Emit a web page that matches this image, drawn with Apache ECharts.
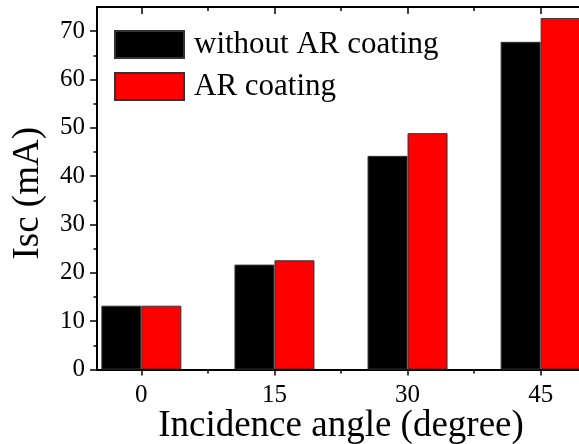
<!DOCTYPE html>
<html>
<head>
<meta charset="utf-8">
<script src="https://cdn.jsdelivr.net/npm/echarts@6/dist/echarts.min.js"></script>
<style>
html,body{margin:0;padding:0;background:#fff;}
#c{width:579px;height:444px;}
</style>
</head>
<body>
<div id="c"></div>
<script>
var angles = [0, 15, 30, 45];
var withoutAR = [13.2, 21.7, 44.2, 67.8];
var withAR = [13.2, 22.6, 48.9, 72.7];
var xMajorTicks = [0, 15, 30, 45];
var xMinorTicks = [7.5, 22.5, 37.5];
var yMajorTicks = [0, 10, 20, 30, 40, 50, 60, 70];
var yMinorTicks = [5, 15, 25, 35, 45, 55, 65];

var FONT = 'Liberation Serif';
var chart = echarts.init(document.getElementById('c'));

function pairs(vals) {
  return angles.map(function (a, i) { return [a, vals[i]]; });
}

function xAx(pos, ticks, len, inside, extra) {
  var o = {
    type: 'value', position: pos, min: -5, max: 50,
    axisLine: { show: false, onZero: false },
    splitLine: { show: false },
    axisTick: { show: true, inside: inside, length: len, customValues: ticks,
      lineStyle: { color: '#000', width: 1.5 } },
    axisLabel: { show: false }
  };
  for (var k in extra) o[k] = extra[k];
  return o;
}

chart.setOption({
  animation: false,
  backgroundColor: '#fff',
  grid: { left: 97, right: -6, top: 7, bottom: 74.5, containLabel: false, outerBoundsMode: 'none' },
  legend: {
    orient: 'vertical', left: 114, top: 29, padding: 0,
    itemWidth: 69, itemHeight: 27, itemGap: 11,
    icon: 'rect',
    textStyle: { fontFamily: FONT, fontSize: 31, color: '#000', padding: [0, 0, 0, 5] },
    data: ['without AR coating', 'AR coating']
  },
  xAxis: [
    xAx('bottom', xMajorTicks, 6, false, {
      axisLine: { show: true, onZero: false, lineStyle: { color: '#000', width: 2 } },
      axisLabel: { show: true, customValues: xMajorTicks, fontFamily: FONT, fontSize: 25, color: '#000', margin: 13 },
      name: 'Incidence angle (degree)', nameLocation: 'middle', nameGap: 38, nameMoveOverlap: false,
      nameTextStyle: { fontFamily: FONT, fontSize: 37, color: '#000' }
    }),
    xAx('bottom', xMinorTicks, 4, false, {}),
    xAx('top', xMajorTicks, 7, true, {
      axisLine: { show: true, onZero: false, lineStyle: { color: '#000', width: 2 } }
    }),
    xAx('top', xMinorTicks, 4, true, {})
  ],
  yAxis: [
    {
      type: 'value', position: 'left', min: 0, max: 75,
      axisLine: { show: true, onZero: false, lineStyle: { color: '#000', width: 2 } },
      splitLine: { show: false },
      axisTick: { show: true, inside: false, length: 7, customValues: yMajorTicks,
        lineStyle: { color: '#000', width: 1.5 } },
      axisLabel: { customValues: yMajorTicks, fontFamily: FONT, fontSize: 25, color: '#000', margin: 12 },
      name: 'Isc (mA)', nameLocation: 'middle', nameGap: 50,
      nameTextStyle: { fontFamily: FONT, fontSize: 37, color: '#000', padding: [0, 10, 0, 0] }
    },
    {
      type: 'value', position: 'left', min: 0, max: 75,
      axisLine: { show: false, onZero: false },
      splitLine: { show: false },
      axisTick: { show: true, inside: false, length: 3.5, customValues: yMinorTicks,
        lineStyle: { color: '#000', width: 1.5 } },
      axisLabel: { show: false }
    }
  ],
  series: [
    {
      name: 'without AR coating', type: 'bar', xAxisIndex: 0, yAxisIndex: 0,
      data: pairs(withoutAR), barWidth: 40, barGap: '0%',
      itemStyle: { color: '#000', borderColor: '#333', borderWidth: 1 }
    },
    {
      name: 'AR coating', type: 'bar', xAxisIndex: 0, yAxisIndex: 0,
      data: pairs(withAR), barWidth: 40, barGap: '0%',
      itemStyle: { color: '#ff0000', borderColor: '#333', borderWidth: 1 }
    }
  ]
});
</script>
</body>
</html>
